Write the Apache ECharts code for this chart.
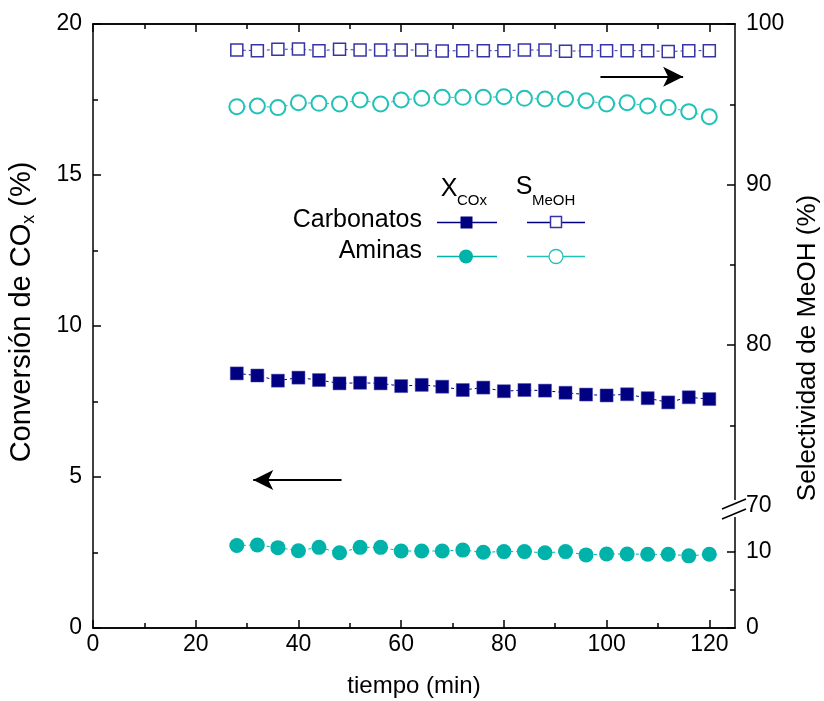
<!DOCTYPE html>
<html>
<head>
<meta charset="utf-8">
<script src="https://cdn.jsdelivr.net/npm/echarts@6/dist/echarts.min.js"></script>
<style>html,body{margin:0;padding:0;background:#fff}#c{width:824px;height:701px}</style>
</head>
<body>
<div id="c"></div>
<script>
// ---- data ----
var tiempo = [28,32,36,40,44,48,52,56,60,64,68,72,76,80,84,88,92,96,100,104,108,112,116,120];
var convCarbonatos = [8.43,8.36,8.19,8.29,8.21,8.10,8.12,8.10,8.01,8.05,7.99,7.88,7.96,7.84,7.88,7.86,7.79,7.73,7.70,7.74,7.61,7.47,7.64,7.58];
var convAminas = [2.73,2.75,2.66,2.56,2.67,2.49,2.67,2.67,2.55,2.55,2.55,2.58,2.51,2.53,2.53,2.49,2.53,2.42,2.45,2.45,2.44,2.44,2.39,2.44];
var selCarbonatos = [98.38,98.34,98.42,98.44,98.34,98.42,98.38,98.38,98.38,98.38,98.32,98.34,98.34,98.34,98.38,98.38,98.30,98.34,98.34,98.34,98.34,98.28,98.34,98.34];
var selAminas = [94.85,94.89,94.79,95.10,95.06,95.02,95.27,95.02,95.27,95.37,95.43,95.43,95.43,95.47,95.37,95.33,95.33,95.22,95.02,95.10,94.89,94.79,94.54,94.22];
var xMajorTicks = [0,20,40,60,80,100,120];
var xMinorTicks = [10,30,50,70,90,110];
var arrowLeft = [[48.4,4.90],[31.2,4.90]];
var arrowRight = [[98.8,96.72],[114.9,96.72]];

var FONT = "'Liberation Sans', Arial, sans-serif";
var NAVY = '#000080', TEAL = '#00B3AA', NAVY2 = '#3535A5', TEAL2 = '#22C2B9';
var BLACK = '#000';
var TICKFS = 23;

function pairs(xs, ys){ return xs.map(function(x,i){ return [x, ys[i]]; }); }

var G = {left:93, right:89, outerBoundsMode:'none', containLabel:false};

function xAx(grid, pos, vals, len, labels){
  return {
    type:'value', gridIndex:grid, position:pos, min:0, max:125,
    axisLine:{show:true, onZero:false, lineStyle:{color:BLACK,width:1.5}},
    axisTick:{show:true, inside:true, length:len, customValues:vals, lineStyle:{color:BLACK,width:1.5}},
    axisLabel:{show:labels, customValues:vals, color:BLACK, fontSize:TICKFS, fontFamily:FONT, margin:5},
    splitLine:{show:false}
  };
}
function yAx(grid, pos, min, max, interval){
  return {type:'value', gridIndex:grid, position:pos, min:min, max:max, interval:interval,
      axisLine:{show:true, onZero:false, lineStyle:{color:BLACK,width:1.5}},
      axisTick:{show:true, inside:true, length:8, lineStyle:{color:BLACK,width:1.5}},
      minorTick:{show:true, splitNumber:2, length:5, lineStyle:{color:BLACK,width:1.5}},
      axisLabel:{color:BLACK, fontSize:TICKFS, fontFamily:FONT, margin:11},
      splitLine:{show:false}};
}

var option = {
  animation:false,
  backgroundColor:'#fff',
  grid:[
    Object.assign({top:24, bottom:73}, G),
    Object.assign({top:24, height:481.5}, G),
    Object.assign({top:552, height:76}, G)
  ],
  xAxis:[
    Object.assign(xAx(0,'bottom',xMajorTicks,8,true), {name:'tiempo (min)', nameLocation:'middle', nameGap:46,
      nameTextStyle:{color:BLACK,fontSize:24,fontFamily:FONT}}),
    xAx(0,'bottom',xMinorTicks,5,false),
    xAx(0,'top',xMajorTicks,8,false),
    xAx(0,'top',xMinorTicks,5,false),
    {type:'value', gridIndex:1, min:0, max:125, show:false},
    {type:'value', gridIndex:2, min:0, max:125, show:false}
  ],
  yAxis:[
    yAx(0,'left',0,20,5),
    yAx(1,'right',70,100,10),
    yAx(2,'right',0,10,10)
  ],
  series:[
    {name:'X Carbonatos', type:'line', xAxisIndex:0, yAxisIndex:0, data:pairs(tiempo, convCarbonatos),
      symbol:'rect', symbolSize:13, itemStyle:{color:NAVY, borderColor:'#4a4ab0', borderWidth:0.5},
      lineStyle:{color:NAVY, width:1, type:[3,3]},
      markLine:{silent:true, symbol:['none','arrow'], symbolSize:[15,20], label:{show:false},
        lineStyle:{color:BLACK, width:2, type:'solid'},
        data:[[{coord:arrowLeft[0]},{coord:arrowLeft[1]}]]}},
    {name:'X Aminas', type:'line', xAxisIndex:0, yAxisIndex:0, data:pairs(tiempo, convAminas),
      symbol:'circle', symbolSize:15, itemStyle:{color:TEAL},
      lineStyle:{color:TEAL, width:1, type:[3,3]}},
    {name:'S Carbonatos', type:'line', xAxisIndex:4, yAxisIndex:1, data:pairs(tiempo, selCarbonatos),
      symbol:'rect', symbolSize:12, showAllSymbol:true, itemStyle:{color:'#fff', borderColor:NAVY2, borderWidth:1.5},
      lineStyle:{color:NAVY2, width:1, type:[3,3]},
      markLine:{silent:true, symbol:['none','arrow'], symbolSize:[15,20], label:{show:false},
        lineStyle:{color:BLACK, width:2, type:'solid'},
        data:[[{coord:arrowRight[0]},{coord:arrowRight[1]}]]}},
    {name:'S Aminas', type:'line', xAxisIndex:4, yAxisIndex:1, data:pairs(tiempo, selAminas),
      symbol:'emptyCircle', symbolSize:15, showAllSymbol:true, itemStyle:{color:TEAL2, borderColor:TEAL2, borderWidth:1.3},
      lineStyle:{color:TEAL2, width:1, type:[3,3]}}
  ],
  graphic:[
    // axis break
    {type:'line', z:99, shape:{x1:735, y1:552, x2:735, y2:516}, style:{stroke:BLACK, lineWidth:1.5}},
    {type:'rect', z:100, shape:{x:727, y:500, width:16, height:17}, style:{fill:'#fff'}},
    {type:'line', z:101, shape:{x1:722, y1:509, x2:746, y2:499}, style:{stroke:BLACK, lineWidth:1.5}},
    {type:'line', z:101, shape:{x1:722, y1:519, x2:746, y2:509}, style:{stroke:BLACK, lineWidth:1.5}},
    // axis titles
    {type:'text', z:10, x:22, y:312, rotation:Math.PI/2,
      style:{text:'{a|Conversión de CO}{b|x}{a| (%)}', fill:BLACK, align:'center', verticalAlign:'middle',
        rich:{a:{fontSize:29, fontFamily:FONT, fill:BLACK, lineHeight:32},
              b:{fontSize:18, fontFamily:FONT, fill:BLACK, lineHeight:14, verticalAlign:'bottom'}}}},
    {type:'text', z:10, x:808, y:348, rotation:Math.PI/2,
      style:{text:'Selectividad de MeOH (%)', fill:BLACK, font:'26px '+FONT, align:'center', verticalAlign:'middle'}},
    // legend
    {type:'text', z:10, x:449, y:189, style:{text:'X', fill:BLACK, font:'25px '+FONT, align:'center', verticalAlign:'middle'}},
    {type:'text', z:10, x:457, y:201, style:{text:'COx', fill:BLACK, font:'15px '+FONT, align:'left', verticalAlign:'middle'}},
    {type:'text', z:10, x:524, y:187, style:{text:'S', fill:BLACK, font:'25px '+FONT, align:'center', verticalAlign:'middle'}},
    {type:'text', z:10, x:532, y:201, style:{text:'MeOH', fill:BLACK, font:'15px '+FONT, align:'left', verticalAlign:'middle'}},
    {type:'text', z:10, x:422, y:220, style:{text:'Carbonatos', fill:BLACK, font:'25px '+FONT, align:'right', verticalAlign:'middle'}},
    {type:'text', z:10, x:422, y:251, style:{text:'Aminas', fill:BLACK, font:'25px '+FONT, align:'right', verticalAlign:'middle'}},
    {type:'line', z:10, shape:{x1:437, y1:222.5, x2:497, y2:222.5}, style:{stroke:NAVY, lineWidth:1.5}},
    {type:'rect', z:11, shape:{x:460.5, y:216.5, width:12, height:12}, style:{fill:NAVY}},
    {type:'line', z:10, shape:{x1:527, y1:222.5, x2:585, y2:222.5}, style:{stroke:NAVY, lineWidth:1.5}},
    {type:'rect', z:11, shape:{x:550.5, y:216.5, width:11, height:11}, style:{fill:'#fff', stroke:NAVY2, lineWidth:1.5}},
    {type:'line', z:10, shape:{x1:437, y1:256.5, x2:497, y2:256.5}, style:{stroke:TEAL, lineWidth:1.5}},
    {type:'circle', z:11, shape:{cx:466, cy:256.5, r:7}, style:{fill:TEAL}},
    {type:'line', z:10, shape:{x1:527, y1:256.5, x2:585, y2:256.5}, style:{stroke:TEAL2, lineWidth:1.5}},
    {type:'circle', z:11, shape:{cx:556, cy:256.5, r:7}, style:{fill:'#fff', stroke:TEAL2, lineWidth:1.3}}
  ]
};
var chart = echarts.init(document.getElementById('c'), null, {renderer:'canvas'});
chart.setOption(option);
</script>
</body>
</html>
